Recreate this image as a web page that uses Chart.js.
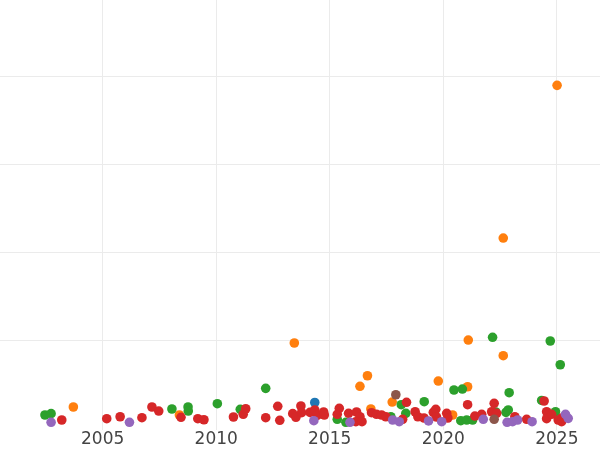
<!DOCTYPE html>
<html lang="en">
<head>
    <meta charset="UTF-8">
    <title>Scatter</title>
    <script src="https://cdn.jsdelivr.net/npm/chart.js"></script>
    <style>
        body { margin: 0; background: #fff; }
    </style>
</head>
<body>
    <canvas id="scatterChart" width="600" height="450"></canvas>

    <script>
        // 값은 그림에서 눈으로 읽은 것 (x: 연도, y: 임의 단위)
        const xTicks = [2005, 2010, 2015, 2020, 2025];

        const blueX = [2014.34];
        const blueY = [29];

        const orangeX = [2003.71, 2008.38, 2013.44, 2016.33, 2016.66, 2016.81, 2017.75, 2019.78, 2020.41, 2021.07, 2021.10, 2022.64, 2022.64, 2025.01];
        const orangeY = [23.9, 14.8, 96.6, 47.4, 59.4, 21.6, 29.5, 53.4, 14.8, 46.9, 100, 215.9, 82.2, 389.4];

        const greenX = [2002.46, 2002.73, 2008.05, 2008.76, 2008.77, 2010.05, 2011.06, 2012.18, 2015.33, 2015.71, 2017.69, 2018.15, 2018.35, 2019.16, 2020.47, 2020.84, 2020.77, 2021.03, 2021.29, 2022.17, 2022.31, 2022.76, 2022.86, 2022.90, 2024.33, 2024.71, 2024.94, 2025.15];
        const greenY = [14.8, 16.3, 21.6, 23.9, 19.3, 27.6, 21.3, 45.1, 9.9, 6.5, 12.8, 26.5, 16.7, 29.9, 43.2, 44.3, 8.3, 9.1, 9.1, 103.1, 18.2, 17.8, 20.5, 40.1, 31.3, 98.9, 18.5, 71.9];

        const redX = [2003.20, 2005.18, 2005.77, 2006.73, 2007.17, 2007.47, 2008.45, 2009.19, 2009.46, 2010.76, 2011.19, 2011.30, 2012.18, 2012.71, 2012.80, 2013.37, 2013.51, 2013.73, 2013.76, 2014.13, 2014.34, 2014.45, 2014.73, 2014.76, 2015.42, 2015.33, 2015.83, 2016.18, 2016.33, 2016.15, 2016.42, 2016.84, 2017.06, 2017.28, 2017.47, 2018.21, 2018.38, 2018.76, 2018.88, 2019.15, 2019.56, 2019.67, 2019.70, 2020.15, 2020.20, 2021.07, 2021.39, 2021.69, 2022.13, 2022.24, 2022.35, 2023.15, 2023.67, 2024.44, 2024.55, 2024.55, 2024.77, 2025.06, 2025.21, 2025.22];
        const redY = [9.1, 10.6, 12.8, 11.7, 23.9, 19.3, 12.2, 10.6, 9.4, 12.5, 15.6, 21.9, 11.7, 24.7, 8.8, 16.3, 12.2, 25, 17.4, 17.8, 20.5, 14.4, 18.2, 14.8, 22.4, 15.6, 16.7, 18.2, 12.8, 7.2, 7.2, 17.4, 15.6, 14.8, 12.8, 9.9, 29.2, 18.5, 12.8, 11.4, 17.8, 21.3, 12.5, 16.7, 11.4, 26.5, 13.6, 15.6, 18.5, 28.1, 16.7, 12.8, 9.9, 30.7, 18.5, 10.6, 15.6, 9.1, 7.2, 11.4];

        const purpleX = [2002.73, 2006.18, 2014.30, 2015.89, 2017.77, 2018.06, 2019.35, 2019.93, 2021.76, 2022.81, 2023.05, 2023.27, 2023.91, 2025.38, 2025.50];
        const purpleY = [6.5, 6.5, 8.3, 6.5, 9.1, 7.2, 8.0, 7.2, 9.9, 6.5, 7.2, 9.1, 7.2, 15.6, 11.0];

        const brownX = [2017.91, 2022.24];
        const brownY = [37.8, 9.9];

        function toPoints(xs, ys) {
            return xs.map((x, i) => ({ x: x, y: ys[i] }));
        }

        function series(xs, ys, color, order) {
            return {
                data: toPoints(xs, ys),
                backgroundColor: color,
                borderColor: color,
                borderWidth: 0,
                pointRadius: 4.8,
                pointHoverRadius: 4.8,
                order: order
            };
        }

        const gridColor = '#ebebeb';

        const ctx = document.getElementById('scatterChart').getContext('2d');
        const scatterChart = new Chart(ctx, {
            type: 'scatter',
            data: {
                datasets: [
                    series(brownX, brownY, '#8c564b', 0),
                    series(purpleX, purpleY, '#9467bd', 1),
                    series(redX, redY, '#d62728', 2),
                    series(greenX, greenY, '#2ca02c', 3),
                    series(orangeX, orangeY, '#ff7f0e', 4),
                    series(blueX, blueY, '#1f77b4', 5)
                ]
            },
            options: {
                responsive: false,
                animation: false,
                events: [],
                layout: { padding: 0, autoPadding: false },
                plugins: {
                    legend: { display: false },
                    tooltip: { enabled: false }
                },
                scales: {
                    x: {
                        type: 'linear',
                        min: 2000.48,
                        max: 2026.9,
                        afterBuildTicks: axis => {
                            axis.ticks = xTicks.map(v => ({ value: v }));
                        },
                        ticks: {
                            callback: v => String(v),
                            color: '#444',
                            padding: 0,
                            maxRotation: 0,
                            font: { family: 'DejaVu Sans', size: 17 }
                        },
                        grid: { color: gridColor, drawTicks: false },
                        border: { display: false }
                    },
                    y: {
                        min: -1.8,
                        max: 486.4,
                        ticks: { display: false, stepSize: 100, includeBounds: false },
                        grid: {
                            drawTicks: false,
                            color: c => (c.tick && c.tick.value > 0) ? gridColor : 'rgba(0,0,0,0)'
                        },
                        border: { display: false }
                    }
                }
            }
        });
    </script>
</body>
</html>
